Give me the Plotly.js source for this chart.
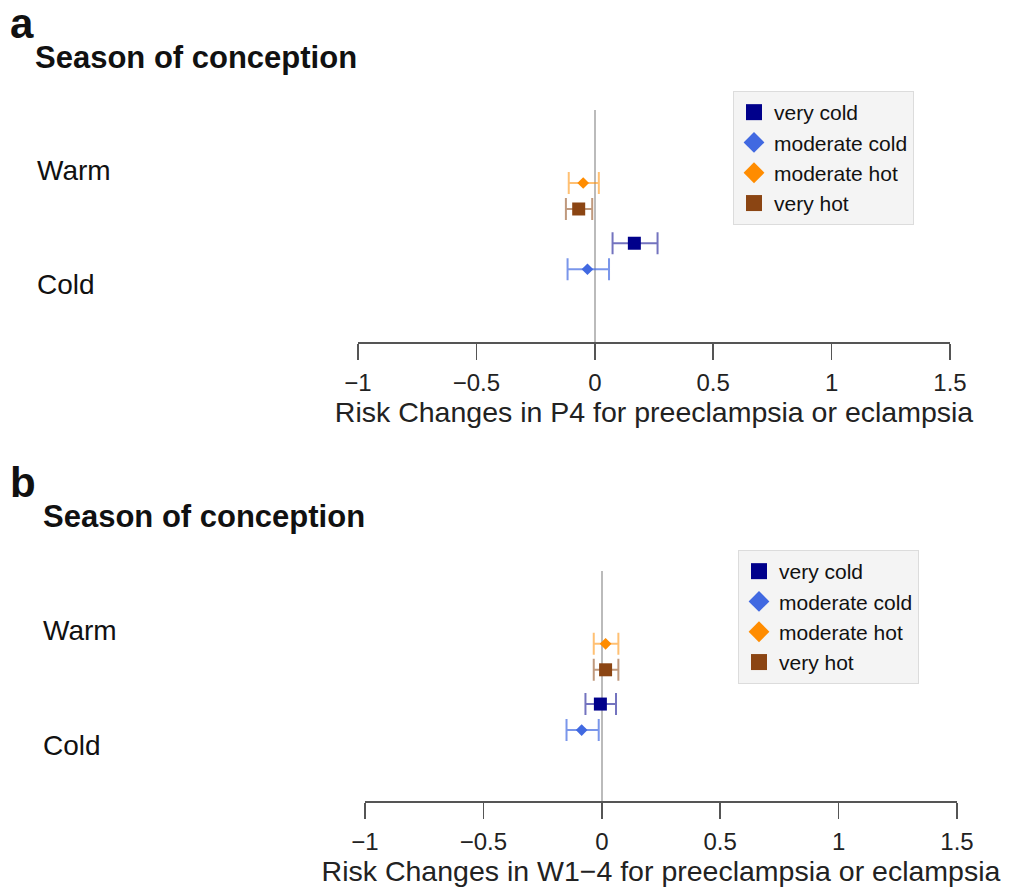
<!DOCTYPE html>
<html>
<head>
<meta charset="utf-8">
<script src="https://cdn.plot.ly/plotly-3.0.1.min.js"></script>
<style>html,body{margin:0;padding:0;background:#fff;}#chart{width:1009px;height:891px;}</style>
</head>
<body>
<div id="chart"></div>
<script>
// ---- data ----
var categories = ["very cold", "moderate cold", "moderate hot", "very hot"];
var seasonOf   = ["Cold", "Cold", "Warm", "Warm"];
var seasons    = ["Cold", "Warm"];
var tickVals   = [-1, -0.5, 0, 0.5, 1, 1.5];
var tickLabels = ["\u22121", "\u22120.5", "0", "0.5", "1", "1.5"];

// panel a: P4
var p4Est = [0.167, -0.031, -0.049, -0.068];
var p4Lo  = [0.075, -0.115, -0.110, -0.122];
var p4Hi  = [0.265,  0.060,  0.017, -0.011];
// panel b: W1-4
var w14Est = [-0.006, -0.085, 0.016, 0.016];
var w14Lo  = [-0.069, -0.149, -0.034, -0.034];
var w14Hi  = [ 0.060, -0.013, 0.070, 0.070];

// ---- styles ----
var FONT = "Liberation Sans, Arial, sans-serif";
var colors   = ["#00008B", "#4169E1", "#FF8C00", "#8B4513"];
var barCols  = ["rgba(0,0,139,0.55)", "rgba(65,105,225,0.7)", "rgba(255,140,0,0.55)", "rgba(139,69,19,0.55)"];
var symbols  = ["square", "diamond", "diamond", "square"];
var plotSize = [13, 9, 9, 13];
var legSize  = [16, 16, 16, 16];
var rowOffset = [0.363, 0.137, -0.113, -0.339];

function yPos(i) { return seasons.indexOf(seasonOf[i]) + 1 + rowOffset[i]; }

var traces = [];
function addPanel(est, lo, hi, xa, ya, leg) {
  for (var i = 0; i < categories.length; i++) {
    traces.push({
      type: "scatter", mode: "markers",
      x: [est[i]], y: [yPos(i)], xaxis: xa, yaxis: ya,
      name: categories[i], showlegend: false,
      marker: {symbol: symbols[i], size: plotSize[i], color: colors[i], line: {width: 0}},
      error_x: {type: "data", symmetric: false, array: [hi[i] - est[i]], arrayminus: [est[i] - lo[i]],
                color: barCols[i], thickness: 2, width: 11}
    });
  }
  for (var j = 0; j < categories.length; j++) {
    traces.push({
      type: "scatter", mode: "markers", x: [null], y: [null], xaxis: xa, yaxis: ya,
      name: categories[j], showlegend: true, legend: leg, hoverinfo: "skip",
      marker: {symbol: symbols[j], size: legSize[j], color: colors[j], line: {width: 0}}
    });
  }
}
addPanel(p4Est, p4Lo, p4Hi, "x", "y", "legend");
addPanel(w14Est, w14Lo, w14Hi, "x2", "y2", "legend2");

function xAxis(domain, anchor, title) {
  return {
    domain: domain, anchor: anchor, range: [-1, 1.5], fixedrange: true,
    tickmode: "array", tickvals: tickVals, ticktext: tickLabels,
    ticks: "outside", ticklen: 16, tickwidth: 1.5, tickcolor: "#555",
    showline: true, linecolor: "#555", linewidth: 1.5, ticklabelstandoff: 3,
    showgrid: false, zeroline: true, zerolinecolor: "#bbbbbb", zerolinewidth: 2,
    tickfont: {family: FONT, size: 24, color: "#222"},
    title: {text: title, font: {family: FONT, size: 28.5, color: "#222"}, standoff: 2}
  };
}
function yAxis(domain, range) {
  return {domain: domain, range: range, visible: false, showgrid: false, zeroline: false, fixedrange: true};
}
function legendBox(x, y) {
  return {x: x, y: y, xref: "paper", yref: "paper", xanchor: "left", yanchor: "top",
          bgcolor: "#f4f4f4", bordercolor: "#dcdcdc", borderwidth: 1,
          font: {family: FONT, size: 21, color: "#111"}, itemclick: false, itemdoubleclick: false};
}
function txt(text, x, y, yref, size, bold) {
  return {text: bold ? "<b>" + text + "</b>" : text, x: x, y: y, xref: "paper", yref: yref,
          xanchor: "left", yanchor: "middle", showarrow: false,
          font: {family: FONT, size: size, color: "#111"}};
}

var H = 891, W = 1009;
var annotations = [
  txt("a", 8 / W, 1 - 24 / H, "paper", 42, true),
  txt("Season of conception", 33 / W, 1 - 57 / H, "paper", 31, true),
  txt("b", 8 / W, 1 - 482 / H, "paper", 42, true),
  txt("Season of conception", 41 / W, 1 - 516 / H, "paper", 31, true)
];
seasons.forEach(function (s, k) {
  annotations.push(txt(s, 35 / W, k + 1, "y", 28, false));
  annotations.push(txt(s, 41 / W, k + 1, "y2", 28, false));
});

var layout = {
  width: W, height: H, margin: {l: 0, r: 0, t: 0, b: 0},
  paper_bgcolor: "#fff", plot_bgcolor: "#fff",
  showlegend: true,
  xaxis: xAxis([358 / W, 950 / W], "y", "Risk Changes in P4 for preeclampsia or eclampsia"),
  yaxis: yAxis([1 - 342 / H, 1 - 110 / H], [0.504, 2.522]),
  xaxis2: xAxis([365 / W, 957 / W], "y2", "Risk Changes in W1\u22124 for preeclampsia or eclampsia"),
  yaxis2: yAxis([1 - 801 / H, 1 - 571 / H], [0.52, 2.52]),
  legend: legendBox(733 / W, 1 - 91 / H),
  legend2: legendBox(738 / W, 1 - 550 / H),
  annotations: annotations
};

Plotly.newPlot("chart", traces, layout, {displayModeBar: false, staticPlot: true});
</script>
</body>
</html>
